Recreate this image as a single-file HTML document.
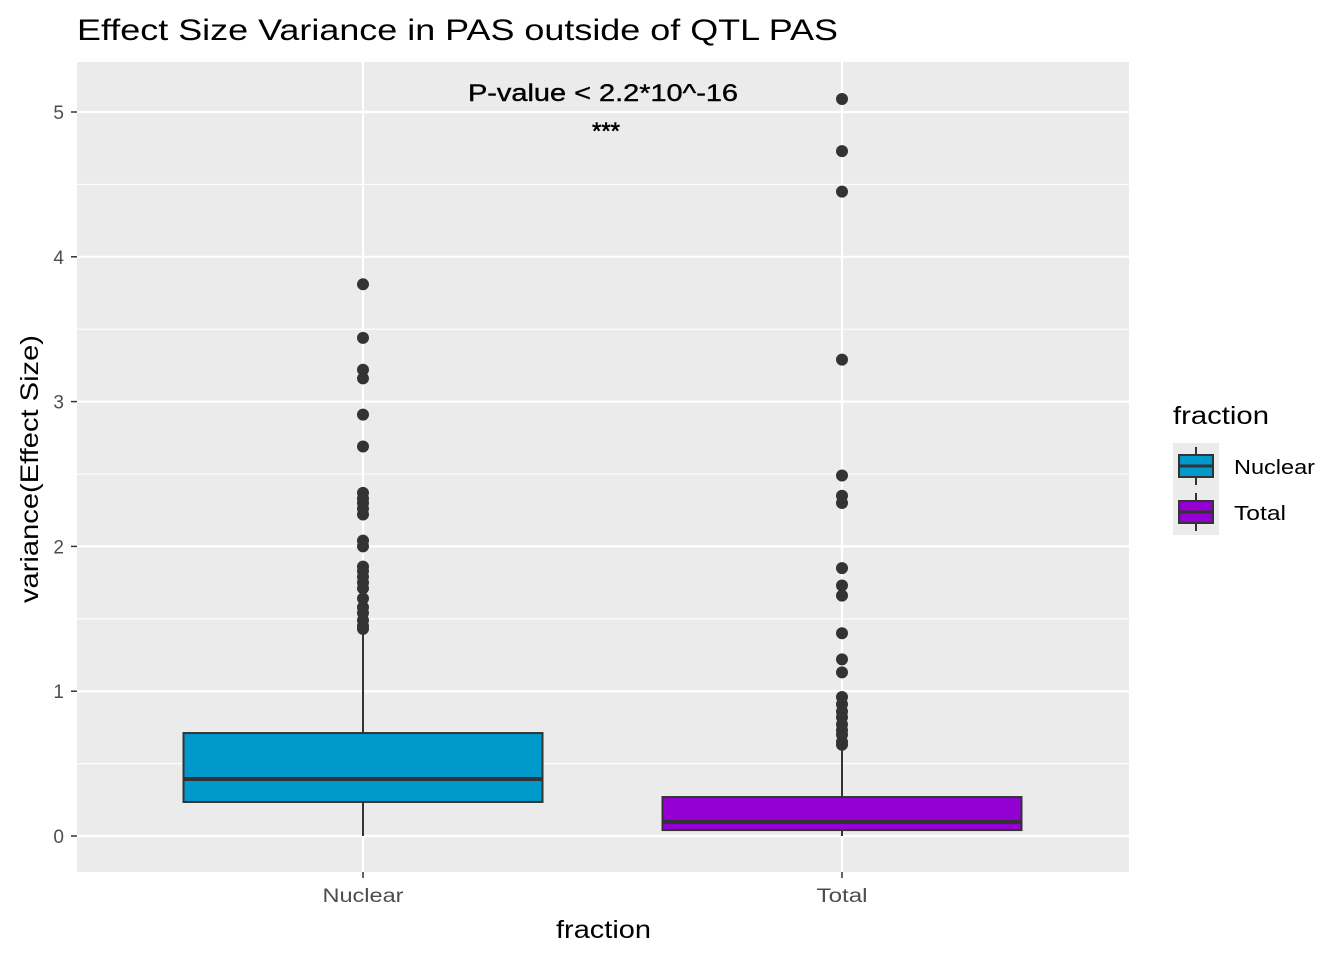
<!DOCTYPE html>
<html><head><meta charset="utf-8"><style>
body{margin:0;background:#fff;}
svg text{font-family:"Liberation Sans",sans-serif;}
</style></head><body>
<svg id="chart" width="1344" height="960">
<rect width="1344" height="960" fill="#fff"/>
<text x="77" y="40" font-size="30" textLength="761" lengthAdjust="spacingAndGlyphs" fill="#000">Effect Size Variance in PAS outside of QTL PAS</text>
<rect x="77" y="62" width="1052" height="810" fill="#ebebeb"/>
<g id="grid"></g><g id="marks"></g><g id="axes"></g>
<text x="468" y="101" font-size="24" textLength="270" lengthAdjust="spacingAndGlyphs" stroke="#000" stroke-width="0.4">P-value &lt; 2.2*10^-16</text>
<text x="606" y="139" font-size="24" text-anchor="middle" stroke="#000" stroke-width="0.6">***</text>
<text x="556" y="938" font-size="25" textLength="95" lengthAdjust="spacingAndGlyphs">fraction</text>
<text transform="translate(38,603) rotate(-90)" font-size="25" textLength="268" lengthAdjust="spacingAndGlyphs">variance(Effect Size)</text>
<g>
<text x="1173" y="424" font-size="25" textLength="96" lengthAdjust="spacingAndGlyphs">fraction</text>
<rect x="1173" y="443" width="46" height="92" fill="#ebebeb"/>
<g>
<line x1="1196" y1="447" x2="1196" y2="485" stroke="#333" stroke-width="2"/>
<rect x="1179" y="455" width="34" height="22" fill="#0099cc" stroke="#333" stroke-width="2"/>
<line x1="1179" y1="466" x2="1213" y2="466" stroke="#333" stroke-width="3"/>
<text x="1234" y="474" font-size="20" textLength="81" lengthAdjust="spacingAndGlyphs">Nuclear</text></g>
<g>
<line x1="1196" y1="493" x2="1196" y2="531" stroke="#333" stroke-width="2"/>
<rect x="1179" y="501" width="34" height="22" fill="#9400d3" stroke="#333" stroke-width="2"/>
<line x1="1179" y1="512" x2="1213" y2="512" stroke="#333" stroke-width="3"/>
<text x="1234" y="520" font-size="20" textLength="52" lengthAdjust="spacingAndGlyphs">Total</text></g>
</g>
</svg>
<script>
const categories=["Nuclear","Total"];
const colors=["#0099cc","#9400d3"];
const q1=[0.235,0.041];
const medians=[0.394,0.097];
const q3=[0.711,0.269];
const whiskLow=[0,0];
const whiskHigh=[1.42,0.62];
const outliersNuclear=[3.81,3.44,3.22,3.16,2.91,2.69,2.37,2.33,2.30,2.26,2.22,2.04,2.00,1.86,1.83,1.79,1.75,1.71,1.64,1.58,1.54,1.49,1.45,1.43];
const outliersTotal=[5.09,4.73,4.45,3.29,2.49,2.35,2.30,1.85,1.73,1.66,1.40,1.22,1.13,0.96,0.91,0.86,0.82,0.77,0.73,0.70,0.65,0.63];
const yTicks=[0,1,2,3,4,5];
const NS="http://www.w3.org/2000/svg";
const y=v=>836-v*144.8;
const x=i=>363+i*479;
const halfW=179.5;
const labelLen={"Nuclear":81,"Total":51};
function mk(tag,attrs,parent){const e=document.createElementNS(NS,tag);for(const k in attrs)e.setAttribute(k,attrs[k]);parent.appendChild(e);return e;}
const grid=document.getElementById('grid'),marks=document.getElementById('marks'),axes=document.getElementById('axes');
for(let i=0;i<yTicks.length;i++){
 const t=yTicks[i];
 const l=mk('line',{x1:77,x2:1129,y1:y(t),y2:y(t),stroke:'#fff','stroke-width':2.2},grid);
 
 
 if(i<yTicks.length-1){const m=mk('line',{x1:77,x2:1129,y1:y(t+0.5),y2:y(t+0.5),stroke:'#fff','stroke-width':1.1},grid);
 
 }
 const tk=mk('line',{x1:71,x2:77,y1:y(t),y2:y(t),stroke:'#333','stroke-width':1.5},axes);
 
 
 const tx=mk('text',{x:64,y:y(t)+7,'font-size':19,'text-anchor':'end',fill:'#4d4d4d'},axes);
 tx.textContent=t;
 
 
}
const outs=[outliersNuclear,outliersTotal];
categories.forEach((c,i)=>{
 const gl=mk('line',{x1:x(i),x2:x(i),y1:62,y2:872,stroke:'#fff','stroke-width':2.2},grid);
 
 
 const g=mk('g',{},marks);
 
 
 mk('line',{x1:x(i),x2:x(i),y1:y(whiskLow[i]),y2:y(whiskHigh[i]),stroke:'#333','stroke-width':2},g);
 mk('rect',{x:x(i)-halfW,y:y(q3[i]),width:2*halfW,height:y(q1[i])-y(q3[i]),fill:colors[i],stroke:'#333','stroke-width':2},g);
 mk('line',{x1:x(i)-halfW,x2:x(i)+halfW,y1:y(medians[i]),y2:y(medians[i]),stroke:'#333','stroke-width':4},g);
 outs[i].forEach(v=>{const p=mk('circle',{cx:x(i),cy:y(v),r:6,fill:'#333'},g);
 
 });
 const tk=mk('line',{x1:x(i),x2:x(i),y1:872,y2:878,stroke:'#333','stroke-width':1.5},axes);
 
 
 const tx=mk('text',{x:x(i)-labelLen[c]/2,y:902,'font-size':19,fill:'#4d4d4d',textLength:labelLen[c],lengthAdjust:'spacingAndGlyphs'},axes);
 tx.textContent=c;
 
 
});
</script>
</body></html>
